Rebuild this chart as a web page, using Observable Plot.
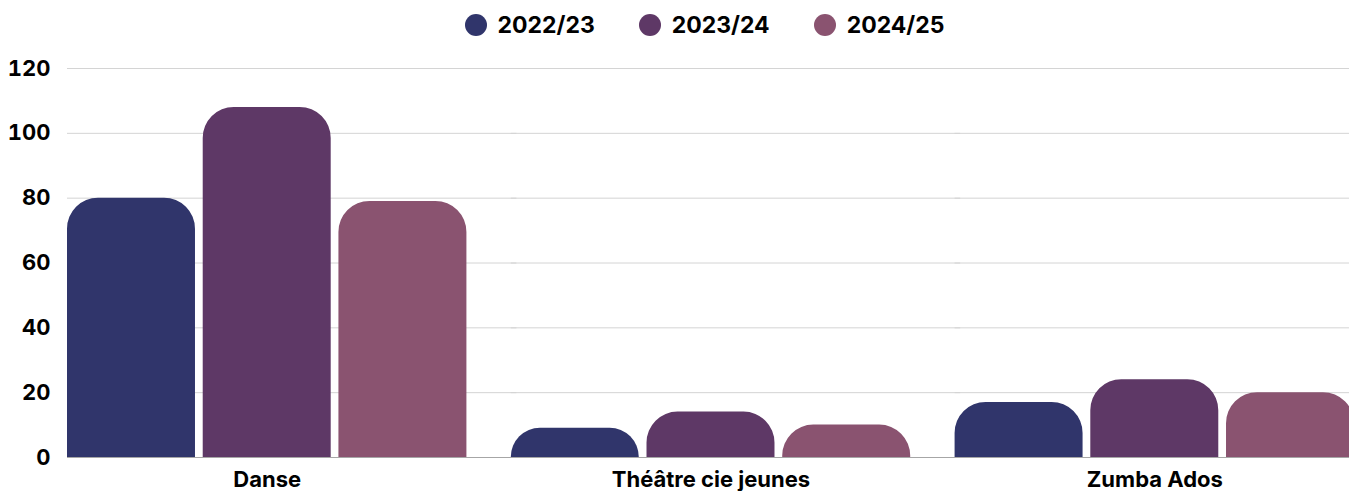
<!DOCTYPE html>
<html><head><meta charset="utf-8">
<script src="https://cdn.jsdelivr.net/npm/d3@7"></script>
<script src="https://cdn.jsdelivr.net/npm/@observablehq/plot@0.6"></script>
<style>
html,body{margin:0;padding:0;background:#fff;overflow:hidden;}
body{font-family:Inter,"Noto Sans",sans-serif;}
#legend{height:50px;box-sizing:border-box;padding-left:55px;width:1354px;display:flex;justify-content:center;align-items:center;gap:44px;font-weight:700;font-size:23px;color:#000;}
#legend .item{display:flex;align-items:center;gap:11px;}
#legend .dot{width:22px;height:22px;border-radius:50%;}
#chart svg{max-width:none !important;}
</style></head>
<body>
<div id="legend"></div>
<div id="chart"></div>
<script>
const categories = ["Danse", "Théâtre cie jeunes", "Zumba Ados"];
const seasons = ["2022/23", "2023/24", "2024/25"];
const colors = ["#30356b", "#5e3866", "#8a5370"];
const v2022 = [80, 9, 17];
const v2023 = [108, 14, 24];
const v2024 = [79, 10, 20];
const yTicks = [0, 20, 40, 60, 80, 100, 120];

const series = [v2022, v2023, v2024];
const data = [];
categories.forEach((c, i) => seasons.forEach((s, j) => data.push({cat: c, season: s, value: series[j][i]})));

const legend = document.getElementById("legend");
seasons.forEach((s, j) => {
  const it = document.createElement("div"); it.className = "item";
  const d = document.createElement("span"); d.className = "dot"; d.style.background = colors[j];
  const t = document.createElement("span"); t.textContent = s;
  it.append(d, t); legend.append(it);
});

function roundTop(index, scales, values, dims, ctx, next) {
  const g = next(index, scales, values, dims, ctx);
  g.querySelectorAll("rect").forEach(r => {
    const x = +r.getAttribute("x"), y = +r.getAttribute("y");
    const w = +r.getAttribute("width"), h = +r.getAttribute("height");
    const rad = Math.min(31, h, w / 2);
    const p = document.createElementNS("http://www.w3.org/2000/svg", "path");
    p.setAttribute("d", `M${x},${y + h}V${y + rad}A${rad},${rad} 0 0 1 ${x + rad},${y}H${x + w - rad}A${rad},${rad} 0 0 1 ${x + w},${y + rad}V${y + h}Z`);
    for (const a of ["fill", "transform"]) if (r.getAttribute(a)) p.setAttribute(a, r.getAttribute(a));
    r.replaceWith(p);
  });
  return g;
}
// extend each facet's rules across the gap to the next facet so lines look continuous
function extendRight(index, scales, values, dims, ctx, next) {
  const g = next(index, scales, values, dims, ctx);
  g.querySelectorAll("line").forEach(l => {
    l.setAttribute("x2", +l.getAttribute("x2") + 50);
  });
  return g;
}

const chart = Plot.plot({
  width: 1354,
  height: 441,
  marginLeft: 67,
  marginRight: 0,
  marginTop: 18,
  marginBottom: 34,
  style: {fontFamily: "Inter, 'Noto Sans', sans-serif", fontSize: "22px", fontWeight: 700, color: "#000", background: "#fff", overflow: "visible", maxWidth: "none"},
  fx: {domain: categories, paddingInner: 0.1, paddingOuter: 0, label: null, round: false},
  x: {domain: seasons, paddingInner: 0.057, paddingOuter: 0, axis: null, round: false},
  y: {domain: [0, 120], ticks: yTicks, label: null},
  color: {domain: seasons, range: colors},
  marks: [
    Plot.ruleY(yTicks.slice(1), {stroke: "#d4d4d4", strokeWidth: 1, render: extendRight}),
    Plot.ruleY([0], {stroke: "#a6a6a6", strokeWidth: 1.2, render: extendRight}),
    Plot.axisY({ticks: yTicks, tickSize: 0, tickPadding: 17, label: null, fontSize: 22, fontWeight: 700}),
    Plot.axisFx({anchor: "bottom", tickSize: 0, tickPadding: 14, label: null, fontSize: 22, fontWeight: 700}),
    Plot.barY(data, {fx: "cat", x: "season", y: "value", fill: "season", render: roundTop})
  ]
});
document.getElementById("chart").append(chart);
</script>
</body></html>
